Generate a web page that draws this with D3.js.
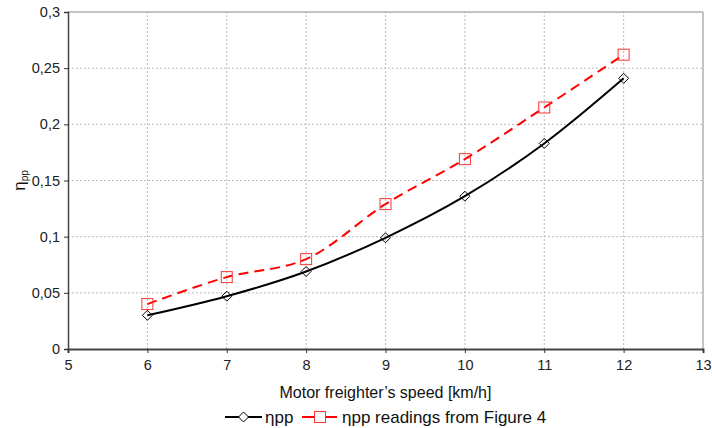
<!DOCTYPE html>
<html>
<head>
<meta charset="utf-8">
<script src="https://cdn.jsdelivr.net/npm/d3@7"></script>
<style>
body { margin: 0; background: #fff; }
svg { font-family: "Liberation Sans", Arial, sans-serif; }
</style>
</head>
<body>
<div id="chart"></div>
<script>
// Data
var speeds = [6, 7, 8, 9, 10, 11, 12];
var etaPP = [0.030, 0.047, 0.069, 0.099, 0.136, 0.183, 0.241];
var etaFig4 = [0.040, 0.064, 0.080, 0.129, 0.169, 0.215, 0.262];
var xTicks = [5, 6, 7, 8, 9, 10, 11, 12, 13];
var yTicks = [0, 0.05, 0.1, 0.15, 0.2, 0.25, 0.3];

var width = 712, height = 428;
var margin = {left: 68, right: 9, top: 12, bottom: 79};

var svg = d3.select("#chart").append("svg")
    .attr("width", width).attr("height", height);

var x = d3.scaleLinear().domain([5, 13]).range([margin.left, width - margin.right]);
var y = d3.scaleLinear().domain([0, 0.3]).range([height - margin.bottom, margin.top]);

var fmt = function(d) { return String(d).replace(".", ","); };

// grid
svg.append("g").selectAll("line.gx")
    .data(xTicks.slice(1, -1)).enter().append("line")
    .attr("x1", d => x(d)).attr("x2", d => x(d))
    .attr("y1", y(0)).attr("y2", y(0.3))
    .attr("stroke", "#bbb").attr("stroke-dasharray", "2,2");
svg.append("g").selectAll("line.gy")
    .data(yTicks.slice(1, -1)).enter().append("line")
    .attr("y1", d => y(d)).attr("y2", d => y(d))
    .attr("x1", x(5)).attr("x2", x(13))
    .attr("stroke", "#bbb").attr("stroke-dasharray", "2,2");

// frame top/right
svg.append("line").attr("x1", x(5)).attr("x2", x(13)).attr("y1", y(0.3)).attr("y2", y(0.3))
    .attr("stroke", "#888");
svg.append("line").attr("x1", x(13)).attr("x2", x(13)).attr("y1", y(0.3)).attr("y2", y(0))
    .attr("stroke", "#888");

// axes
var xAxis = svg.append("g")
    .attr("transform", "translate(0," + y(0) + ")")
    .call(d3.axisBottom(x).tickValues(xTicks).tickSize(4).tickPadding(7).tickFormat(d3.format("d")));
var yAxis = svg.append("g")
    .attr("transform", "translate(" + x(5) + ",0)")
    .call(d3.axisLeft(y).tickValues(yTicks).tickSize(4).tickPadding(4).tickFormat(fmt));
svg.selectAll(".tick text")
    .style("font-family", "'Liberation Sans', Arial, sans-serif")
    .style("font-size", "14.5px")
    .attr("fill", "#222");
xAxis.select(".domain").attr("stroke", "#444").attr("stroke-width", 2);
yAxis.select(".domain").attr("stroke", "#444").attr("stroke-width", 1.5);
svg.selectAll(".tick line").attr("stroke", "#333");

// lines
var lineGen = d3.line().curve(d3.curveCatmullRom.alpha(0.5));
var ptsA = speeds.map((s, i) => [x(s), y(etaPP[i])]);
var ptsB = speeds.map((s, i) => [x(s), y(etaFig4[i])]);

svg.append("path").attr("d", lineGen(ptsB))
    .attr("fill", "none").attr("stroke", "#ff0000").attr("stroke-width", 2)
    .attr("stroke-dasharray", "10,6");
svg.append("path").attr("d", lineGen(ptsA))
    .attr("fill", "none").attr("stroke", "#000").attr("stroke-width", 2);

// markers
function diamond(g, cx, cy, fill) {
    g.append("path")
        .attr("d", "M" + cx + "," + (cy - 5) + "L" + (cx + 5) + "," + cy + "L" + cx + "," + (cy + 5) + "L" + (cx - 5) + "," + cy + "Z")
        .attr("fill", fill).attr("stroke", "#000").attr("stroke-width", 1);
}
function square(g, cx, cy, fill) {
    g.append("rect").attr("x", cx - 5.5).attr("y", cy - 5.5).attr("width", 11).attr("height", 11)
        .attr("fill", fill).attr("stroke", "#ff3333").attr("stroke-width", 1);
}
ptsB.forEach(p => square(svg, p[0], p[1], "none"));
ptsA.forEach(p => diamond(svg, p[0], p[1], "none"));

// axis titles
svg.append("text").attr("x", x(9)).attr("y", 398)
    .attr("text-anchor", "middle").attr("font-size", 16).attr("fill", "#111")
    .text("Motor freighter\u2019s speed [km/h]");

var yl = svg.append("text").attr("transform", "translate(25," + y(0.15) + ") rotate(-90)")
    .attr("text-anchor", "middle").attr("font-size", 17).attr("fill", "#111");
yl.append("tspan").text("\u03b7");
yl.append("tspan").attr("font-size", 10).attr("dy", 3).text("pp");

// legend
var ly = 417;
var leg = svg.append("g");
leg.append("line").attr("x1", 225).attr("x2", 262).attr("y1", ly).attr("y2", ly)
    .attr("stroke", "#000").attr("stroke-width", 2);
diamond(leg, 243.5, ly, "#fff");
leg.append("text").attr("x", 265).attr("y", ly + 6).attr("font-size", 17).attr("fill", "#111")
    .text("\u03b7pp");
leg.append("line").attr("x1", 302).attr("x2", 337).attr("y1", ly).attr("y2", ly)
    .attr("stroke", "#ff0000").attr("stroke-width", 2);
square(leg, 320, ly, "#fff");
leg.append("text").attr("x", 342).attr("y", ly + 6).attr("font-size", 17).attr("fill", "#111")
    .text("\u03b7pp readings from Figure 4");
</script>
</body>
</html>
